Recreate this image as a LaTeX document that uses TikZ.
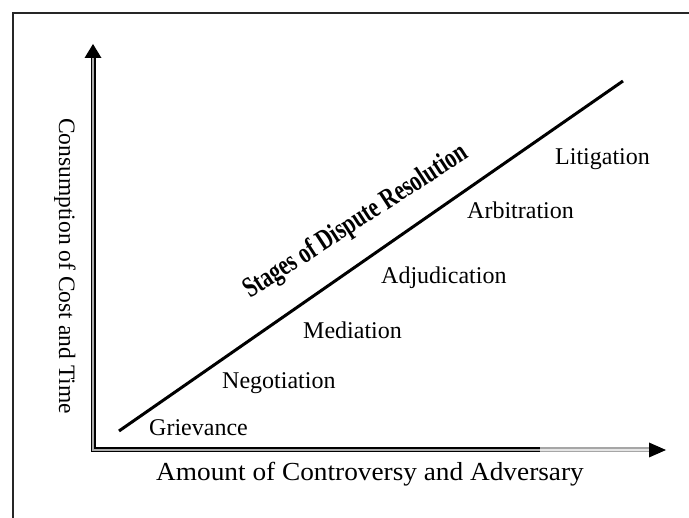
\documentclass[tikz,border=0pt]{standalone}
\usepackage{fontspec}
\setmainfont{Liberation Serif}
\begin{document}
\begin{tikzpicture}[x=1pt,y=-1pt,
  stagelabel/.style={font=\fontsize{24}{28}\selectfont, anchor=base west, inner sep=0pt},
  axisline/.style={draw=black, line width=1.3pt, double=gray!65, double distance=2.4pt, line join=miter},
  tipfill/.style={fill=black, draw=none}]
\useasboundingbox (0,0) rectangle (689,518);
% frame
\draw[line width=1.5pt, black!85] (13,530) -- (13,13) -- (700,13);
% axes
\coordinate (O) at (93,450);
\coordinate (Ytip) at (93,44);
\coordinate (Ybase) at (93,58);
\coordinate (Xtip) at (666,450);
\coordinate (Xbase) at (649,450);
\coordinate (Xfade) at (540,450);
\draw[axisline] (Ybase) -- (O) -- (Xbase);
\draw[draw=gray!70, line width=1.3pt, double=gray!20, double distance=2.4pt] (Xfade) -- (Xbase);
\fill[tipfill] (Ytip) -- ([xshift=-8.5pt]Ybase) -- ([xshift=8.5pt]Ybase) -- cycle;
\fill[tipfill] (Xtip) -- ([yshift=-7.5pt]Xbase) -- ([yshift=7.5pt]Xbase) -- cycle;
% diagonal line
\coordinate (L0) at (119,431);
\coordinate (L1) at (623,81);
\draw[line width=3pt] (L0) -- (L1);
% title
\node[font=\fontsize{29}{33}\bfseries\selectfont, rotate=33, anchor=base, inner sep=0pt] (title) at (360,228) {\scalebox{0.74}[1]{Stages of Dispute Resolution}};
% stage labels
\node[stagelabel] (griev) at (149,436) {Grievance};
\node[stagelabel] (nego) at (222,389) {Negotiation};
\node[stagelabel] (medi) at (303,339) {Mediation};
\node[stagelabel] (adju) at (381,284) {Adjudication};
\node[stagelabel] (arbi) at (467,219) {Arbitration};
\node[stagelabel] (liti) at (555,165) {Litigation};
% axis labels
\node[font=\fontsize{26}{30}\selectfont, anchor=base west, inner sep=0pt] (xlab) at (156,481) {\scalebox{1.05}[1]{Amount of Controversy and Adversary}};
\node[font=\fontsize{23.5}{28}\selectfont, rotate=-90, anchor=base, inner sep=0pt] (ylab) at (59,266) {Consumption of Cost and Time};
\end{tikzpicture}
\end{document}
